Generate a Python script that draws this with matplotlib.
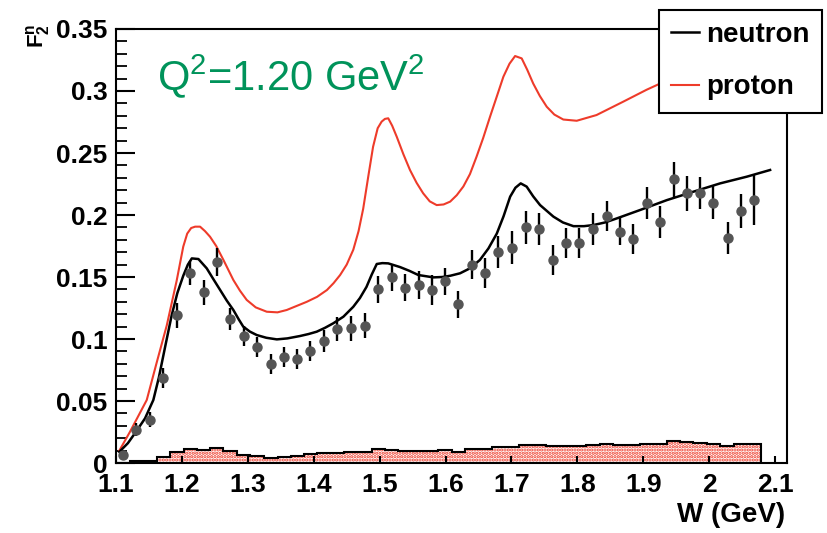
import numpy as np
import matplotlib
matplotlib.use('Agg')
import matplotlib.pyplot as plt

plt.rcParams['font.family'] = 'Liberation Sans'
plt.rcParams['mathtext.fontset'] = 'custom'
plt.rcParams['mathtext.rm'] = 'Liberation Sans'
plt.rcParams['mathtext.bf'] = 'Liberation Sans:bold'
plt.rcParams['mathtext.default'] = 'regular'
plt.rcParams['hatch.linewidth'] = 1.6

# measured neutron F2 points
w = [1.110, 1.131, 1.152, 1.171, 1.193, 1.212, 1.2335, 1.253, 1.273, 1.294,
     1.314, 1.335, 1.355, 1.375, 1.395, 1.416, 1.436, 1.456, 1.478, 1.498,
     1.518, 1.538, 1.559, 1.579, 1.599, 1.619, 1.640, 1.660, 1.680, 1.701,
     1.722, 1.742, 1.763, 1.783, 1.803, 1.823, 1.845, 1.864, 1.885, 1.906,
     1.926, 1.946, 1.966, 1.986, 2.006, 2.028, 2.048, 2.068]
f2 = [0.0065, 0.027, 0.035, 0.0683, 0.119, 0.1535, 0.1377, 0.162, 0.116, 0.1027,
      0.0938, 0.0796, 0.0857, 0.0839, 0.0903, 0.0986, 0.108, 0.1086, 0.1108, 0.140,
      0.1497, 0.1414, 0.1435, 0.1395, 0.1464, 0.128, 0.160, 0.1535, 0.1704, 0.1737,
      0.190, 0.1887, 0.1637, 0.1772, 0.1772, 0.1887, 0.1995, 0.1866, 0.1806, 0.2094,
      0.1946, 0.2288, 0.2175, 0.2175, 0.210, 0.1817, 0.2032, 0.2121]
stat = [0.004, 0.005, 0.006, 0.008, 0.010, 0.0097, 0.010, 0.011, 0.0087, 0.008,
        0.008, 0.008, 0.008, 0.008, 0.008, 0.009, 0.010, 0.010, 0.010, 0.011,
        0.011, 0.011, 0.011, 0.012, 0.011, 0.011, 0.012, 0.012, 0.013, 0.013,
        0.013, 0.013, 0.012, 0.012, 0.012, 0.013, 0.012, 0.011, 0.012, 0.013,
        0.013, 0.014, 0.014, 0.013, 0.013, 0.013, 0.014, 0.020]
syst = [0.0, 0.0013, 0.002, 0.0048, 0.0089, 0.0116, 0.0102, 0.0121, 0.0094, 0.0062,
        0.0054, 0.0043, 0.0048, 0.0054, 0.007, 0.008, 0.008, 0.0089, 0.0089, 0.011,
        0.0105, 0.010, 0.010, 0.010, 0.0105, 0.0089, 0.0116, 0.0116, 0.0129, 0.0129,
        0.0148, 0.0148, 0.0134, 0.014, 0.014, 0.0142, 0.015, 0.0145, 0.0142, 0.0156,
        0.015, 0.0175, 0.017, 0.016, 0.0156, 0.0134, 0.015, 0.0156]

# model curves
neutron_w = [1.105, 1.118, 1.130, 1.144, 1.1566, 1.165, 1.175, 1.1844, 1.193, 1.202,
             1.209, 1.215, 1.225, 1.2376, 1.248, 1.258, 1.268, 1.278, 1.286, 1.293,
             1.303, 1.3135, 1.328, 1.344, 1.360, 1.379, 1.392, 1.4045, 1.417, 1.4297,
             1.445, 1.460, 1.470, 1.480, 1.488, 1.4956, 1.504, 1.513, 1.522, 1.531,
             1.545, 1.5587, 1.5815, 1.595, 1.607, 1.622, 1.637, 1.652, 1.665, 1.6777,
             1.688, 1.698, 1.706, 1.714, 1.723, 1.733, 1.7434, 1.7636, 1.778, 1.794,
             1.810, 1.8243, 1.842, 1.860, 1.895, 1.9357, 1.976, 2.0166, 2.057, 2.0924]
neutron_f2 = [0.009, 0.016, 0.025, 0.036, 0.0508, 0.069, 0.095, 0.119, 0.137, 0.151,
              0.160, 0.165, 0.1645, 0.157, 0.148, 0.1395, 0.131, 0.1234, 0.116, 0.110,
              0.106, 0.1032, 0.101, 0.0997, 0.1005, 0.1024, 0.104, 0.1059, 0.109, 0.1127,
              0.118, 0.126, 0.133, 0.142, 0.152, 0.1605, 0.1612, 0.161, 0.1595, 0.158,
              0.155, 0.1516, 0.1497, 0.150, 0.151, 0.153, 0.157, 0.1637, 0.173, 0.185,
              0.199, 0.2148, 0.222, 0.2255, 0.2229, 0.215, 0.208, 0.1987, 0.194, 0.191,
              0.191, 0.1919, 0.194, 0.1973, 0.204, 0.212, 0.2188, 0.2255, 0.2309, 0.2363]
proton_w = [1.105, 1.121, 1.1466, 1.1617, 1.177, 1.192, 1.202, 1.208, 1.214, 1.220,
            1.2275, 1.235, 1.2426, 1.252, 1.263, 1.278, 1.288, 1.2983, 1.312, 1.3287,
            1.345, 1.359, 1.3894, 1.405, 1.420, 1.430, 1.440, 1.450, 1.460, 1.468,
            1.475, 1.483, 1.490, 1.497, 1.503, 1.508, 1.513, 1.519, 1.526, 1.536,
            1.546, 1.556, 1.566, 1.576, 1.5865, 1.597, 1.607, 1.617, 1.627, 1.637,
            1.647, 1.657, 1.6675, 1.678, 1.6877, 1.697, 1.7055, 1.7155, 1.724, 1.733,
            1.743, 1.7535, 1.765, 1.7786, 1.799, 1.829, 1.8696, 1.905, 1.9255, 1.960,
            2.000, 2.050, 2.090]
proton_f2 = [0.010, 0.025, 0.0508, 0.081, 0.111, 0.147, 0.1745, 0.185, 0.1895, 0.1906,
             0.1906, 0.187, 0.1825, 0.175, 0.1637, 0.1476, 0.139, 0.1315, 0.1255, 0.122,
             0.1215, 0.1234, 0.130, 0.134, 0.1395, 0.145, 0.1516, 0.160, 0.172, 0.187,
             0.205, 0.232, 0.255, 0.270, 0.2753, 0.2775, 0.278, 0.272, 0.263, 0.249,
             0.2363, 0.226, 0.2175, 0.211, 0.208, 0.2085, 0.2108, 0.216, 0.223, 0.233,
             0.247, 0.262, 0.2793, 0.296, 0.3115, 0.322, 0.3282, 0.3263, 0.317, 0.306,
             0.296, 0.2873, 0.281, 0.277, 0.276, 0.2806, 0.2914, 0.301, 0.306, 0.313,
             0.318, 0.322, 0.326]

xticks = [1.1, 1.2, 1.3, 1.4, 1.5, 1.6, 1.7, 1.8, 1.9, 2.0, 2.1]
xticklabels = ['1.1', '1.2', '1.3', '1.4', '1.5', '1.6', '1.7', '1.8', '1.9', '2', '2.1']
yticks = [0, 0.05, 0.1, 0.15, 0.2, 0.25, 0.3, 0.35]
yticklabels = ['0', '0.05', '0.1', '0.15', '0.2', '0.25', '0.3', '0.35']

red = '#ee3b2a'

fig = plt.figure(figsize=(8.27, 5.33), dpi=100)
ax = fig.add_axes([0.1403, 0.1313, 0.8113, 0.8143])

# systematic band as histogram, bins centred on the points
wa = np.array(w)
half = 0.0203 / 2
edges = np.concatenate([[wa[0] - half], (wa[1:] + wa[:-1]) / 2, [wa[-1] + half]])
ax.stairs(syst, edges, fill=True, facecolor='white', edgecolor=red, hatch='.....',
          linewidth=0, zorder=1)
ax.stairs(syst, edges, baseline=0, color='black', lw=1.5, zorder=2)

lp, = ax.plot(proton_w, proton_f2, color=red, lw=1.5, zorder=3)
ln, = ax.plot(neutron_w, neutron_f2, color='black', lw=1.8, zorder=3)
ax.errorbar(w, f2, yerr=stat, fmt='o', color='#555555', ms=6.5, mec='#555555',
            ecolor='black', elinewidth=1.7, capsize=0, zorder=4)

ax.set_xlim(1.1, 2.118)
ax.set_ylim(0, 0.35)
ax.set_xticks(xticks)
ax.set_xticklabels(xticklabels, fontsize=19, fontweight='bold')
ax.set_yticks(yticks)
ax.set_yticklabels(yticklabels, fontsize=19, fontweight='bold')
ax.set_yticks(np.arange(0, 0.351, 0.01), minor=True)
ax.tick_params(axis='y', which='major', direction='in', length=14, width=1.5, pad=6)
ax.tick_params(axis='y', which='minor', direction='in', length=8, width=1.3)
ax.tick_params(axis='x', which='major', direction='in', length=5, width=1.5, pad=7)
for s in ax.spines.values():
    s.set_linewidth(1.5)

fig.text(0.046, 0.955, r'$\mathbf{F_2^n}$', rotation=90, ha='center', va='top', fontsize=16)
fig.text(0.949, 0.034, 'W (GeV)', ha='right', va='center', fontsize=20, fontweight='bold')
fig.text(157 / 827, 1 - 90 / 533, 'Q$^2$=1.20 GeV$^2$', color='#00935a', fontsize=30,
         va='baseline', ha='left')

leg = fig.legend([ln, lp], ['neutron', 'proton'], loc='upper right',
                 bbox_to_anchor=(0.994, 0.982), fancybox=False, edgecolor='black',
                 framealpha=1, prop={'weight': 'bold', 'size': 20}, handlelength=1.0,
                 handletextpad=0.25, labelspacing=0.95, borderpad=0.45, borderaxespad=0)
leg.get_frame().set_linewidth(1.5)

fig.savefig('out.png', dpi=100)
